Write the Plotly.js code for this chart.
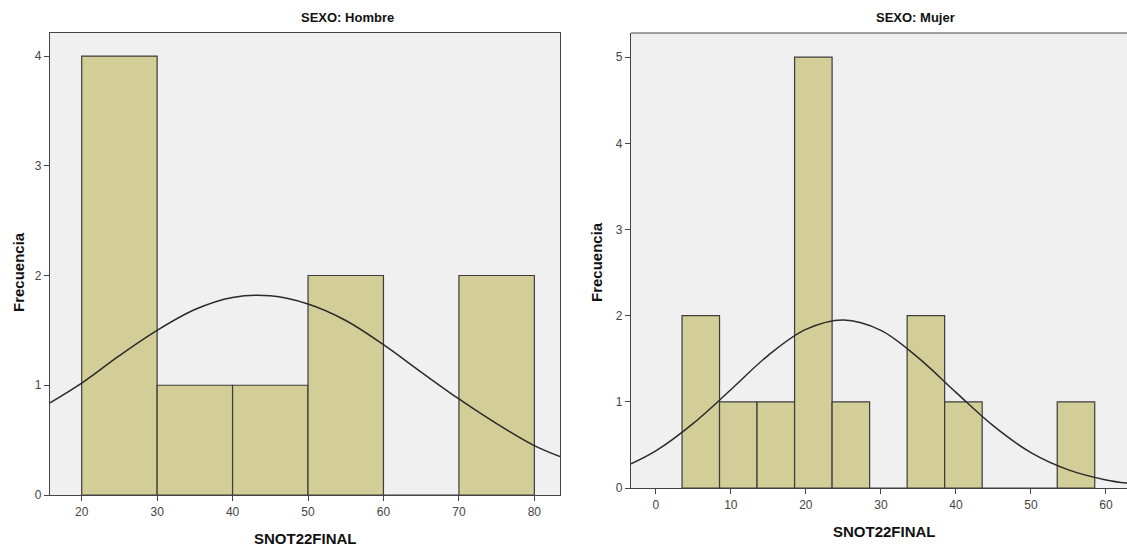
<!DOCTYPE html>
<html>
<head>
<meta charset="utf-8">
<script src="https://cdn.plot.ly/plotly-3.0.1.min.js"></script>
<style>html,body{margin:0;padding:0;background:#fff;}#chart{width:1127px;height:549px;}</style>
</head>
<body>
<div id="chart"></div>
<script>
// Hombre histogram
const hombreBinStart = [20, 30, 40, 50, 60, 70];
const hombreBinWidth = 10;
const hombreCounts = [4, 1, 1, 2, 0, 2];
// Hombre normal curve
const hombreCurveX = [15.8, 20, 25, 30, 35, 40, 45, 50, 55, 60, 65, 70, 75, 80, 83.4];
const hombreCurveY = [0.84, 1.02, 1.27, 1.50, 1.69, 1.80, 1.815, 1.74, 1.59, 1.37, 1.12, 0.875, 0.65, 0.45, 0.35];

// Mujer histogram
const mujerBinStart = [3.5, 8.5, 13.5, 18.5, 23.5, 28.5, 33.5, 38.5, 43.5, 48.5, 53.5];
const mujerBinWidth = 5;
const mujerCounts = [2, 1, 1, 5, 1, 0, 2, 1, 0, 0, 1];
// Mujer normal curve
const mujerCurveX = [-3.3, 0, 5, 10, 15, 20, 25, 30, 35, 40, 45, 50, 55, 60, 62.8];
const mujerCurveY = [0.28, 0.43, 0.75, 1.14, 1.54, 1.84, 1.95, 1.83, 1.51, 1.11, 0.72, 0.41, 0.21, 0.094, 0.057];

const titles = ["SEXO: Hombre", "SEXO: Mujer"];
const xTitle = "SNOT22FINAL";
const yTitle = "Frecuencia";

const barFill = "rgb(211,206,152)";
const barLine = "#3c3c3c";
const font = "Liberation Sans, Arial, sans-serif";
const boldFont = "Liberation Sans Narrow, Liberation Sans, Arial, sans-serif";

function centers(starts, w, counts) {
  return starts.map(s => s + w / 2);
}

const traces = [
  {type: "bar", x: centers(hombreBinStart, hombreBinWidth), y: hombreCounts, width: hombreBinWidth,
   marker: {color: barFill, line: {color: barLine, width: 1.2}}, xaxis: "x", yaxis: "y", hoverinfo: "x+y"},
  {type: "scatter", mode: "lines", x: hombreCurveX, y: hombreCurveY, line: {color: "#2a2a2a", width: 1.5, shape: "spline"},
   xaxis: "x", yaxis: "y"},
  {type: "bar", x: centers(mujerBinStart, mujerBinWidth), y: mujerCounts, width: mujerBinWidth,
   marker: {color: barFill, line: {color: barLine, width: 1.2}}, xaxis: "x2", yaxis: "y2", hoverinfo: "x+y"},
  {type: "scatter", mode: "lines", x: mujerCurveX, y: mujerCurveY, line: {color: "#2a2a2a", width: 1.5, shape: "spline"},
   xaxis: "x2", yaxis: "y2", cliponaxis: true}
];

const axisCommon = {
  showgrid: false, zeroline: false, showline: true, linecolor: "#444", linewidth: 1.2,
  ticks: "outside", ticklen: 5, tickcolor: "#444", tickwidth: 1,
  tickfont: {family: font, size: 12, color: "#444"}, fixedrange: true
};

const layout = {
  width: 1127, height: 549,
  margin: {l: 0, r: 0, t: 0, b: 0},
  paper_bgcolor: "#ffffff",
  plot_bgcolor: "#f0f0f0",
  showlegend: false,
  bargap: 0,
  xaxis: Object.assign({}, axisCommon, {domain: [50/1127, 560/1127], range: [15.8, 83.4], tickvals: [20,30,40,50,60,70,80], mirror: true, anchor: "y"}),
  yaxis: Object.assign({}, axisCommon, {domain: [1 - 495/549, 1 - 33/549], range: [0, 4.21], tickvals: [0,1,2,3,4], mirror: true, anchor: "x"}),
  xaxis2: Object.assign({}, axisCommon, {domain: [631/1127, 1], range: [-3.3, 62.8], tickvals: [0,10,20,30,40,50,60], mirror: false, anchor: "y2"}),
  yaxis2: Object.assign({}, axisCommon, {domain: [1 - 488/549, 1 - 33/549], range: [0, 5.28], tickvals: [0,1,2,3,4,5], mirror: false, anchor: "x2"}),
  shapes: [
    {type: "line", xref: "paper", yref: "paper", x0: 631/1127, x1: 1, y0: 1 - 33/549, y1: 1 - 33/549, line: {color: "#444", width: 1.2}}
  ],
  annotations: [
    {text: "<b>" + titles[0] + "</b>", xref: "paper", yref: "paper", x: 347/1127, y: 1 - 17/549, showarrow: false,
     font: {family: boldFont, size: 13, color: "#111"}, xanchor: "center", yanchor: "middle"},
    {text: "<b>" + titles[1] + "</b>", xref: "paper", yref: "paper", x: 915/1127, y: 1 - 17/549, showarrow: false,
     font: {family: boldFont, size: 13, color: "#111"}, xanchor: "center", yanchor: "middle"},
    {text: "<b>" + xTitle + "</b>", xref: "paper", yref: "paper", x: 305/1127, y: 1 - 538/549, showarrow: false,
     font: {family: font, size: 15, color: "#111"}, xanchor: "center", yanchor: "middle"},
    {text: "<b>" + xTitle + "</b>", xref: "paper", yref: "paper", x: 884/1127, y: 1 - 531/549, showarrow: false,
     font: {family: font, size: 15, color: "#111"}, xanchor: "center", yanchor: "middle"},
    {text: "<b>" + yTitle + "</b>", xref: "paper", yref: "paper", x: 18/1127, y: 1 - 272/549, showarrow: false, textangle: -90,
     font: {family: font, size: 15, color: "#111"}, xanchor: "center", yanchor: "middle"},
    {text: "<b>" + yTitle + "</b>", xref: "paper", yref: "paper", x: 596/1127, y: 1 - 262/549, showarrow: false, textangle: -90,
     font: {family: font, size: 15, color: "#111"}, xanchor: "center", yanchor: "middle"}
  ]
};

Plotly.newPlot("chart", traces, layout, {staticPlot: true, displayModeBar: false});
</script>
</body>
</html>
